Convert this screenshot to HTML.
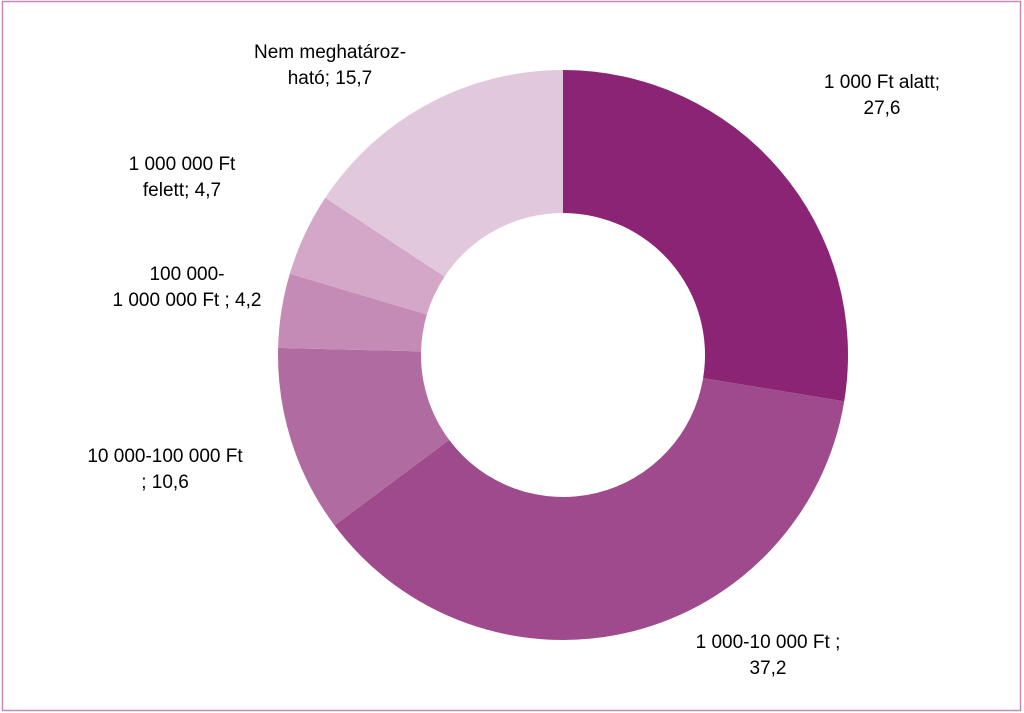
<!DOCTYPE html>
<html><head><meta charset="utf-8"><style>
body{margin:0;background:#fff;}
svg{display:block;font-family:"Liberation Sans",Arial,sans-serif;}
text{font-size:19px;fill:#000;}
</style></head><body>
<svg id="chart" width="1024" height="713" viewBox="0 0 1024 713">
<rect x="2.5" y="1.5" width="1018" height="709" fill="#fff" stroke="#C48BB6" stroke-width="1.5"/>
<g id="slices"></g>
<g id="labels"></g>
</svg>
<script>
const categories=["1 000 Ft alatt","1 000-10 000 Ft","10 000-100 000 Ft","100 000-1 000 000 Ft","1 000 000 Ft felett","Nem meghatározható"];
const values=[27.6,37.2,10.6,4.2,4.7,15.7];
const valueLabels=["27,6","37,2","10,6","4,2","4,7","15,7"];
const colors=["#8B2474","#9E4A8C","#B06BA0","#C48BB6","#D4A7C8","#E2C8DC"];
const labelLines=[["1 000 Ft alatt;","27,6"],["1 000-10 000 Ft ;","37,2"],["10 000-100 000 Ft","; 10,6"],["100 000-","1 000 000 Ft ; 4,2"],["1 000 000 Ft","felett; 4,7"],["Nem meghatároz-","ható; 15,7"]];
const labelPos=[[882,88],[768,648],[165,462],[187,280],[182,170],[330,58]];
const cx=563,cy=355,R=285,r=142;
const ns="http://www.w3.org/2000/svg";
const total=values.reduce((a,b)=>a+b,0);
const g=document.getElementById('slices');
let a0=0;
function pt(a,rad){return [cx+rad*Math.sin(a),cy-rad*Math.cos(a)];}
values.forEach((v,i)=>{
  const a1=a0+v/total*2*Math.PI;
  const large=(a1-a0)>Math.PI?1:0;
  const p1=pt(a0,R),p2=pt(a1,R),p3=pt(a1,r),p4=pt(a0,r);
  const p=document.createElementNS(ns,'path');
  p.setAttribute('d',`M${p1[0]},${p1[1]}A${R},${R} 0 ${large} 1 ${p2[0]},${p2[1]}L${p3[0]},${p3[1]}A${r},${r} 0 ${large} 0 ${p4[0]},${p4[1]}Z`);
  p.setAttribute('fill',colors[i]);
  
  
  g.appendChild(p);
  a0=a1;
});
const lg=document.getElementById('labels');
labelLines.forEach((lines,i)=>{
  const t=document.createElementNS(ns,'text');
  
  
  t.setAttribute('text-anchor','middle');
  lines.forEach((ln,j)=>{
    const s=document.createElementNS(ns,'tspan');
    s.setAttribute('x',labelPos[i][0]);
    s.setAttribute('y',labelPos[i][1]+j*26);
    s.textContent=ln;
    t.appendChild(s);
  });
  lg.appendChild(t);
});
</script>
</body></html>
